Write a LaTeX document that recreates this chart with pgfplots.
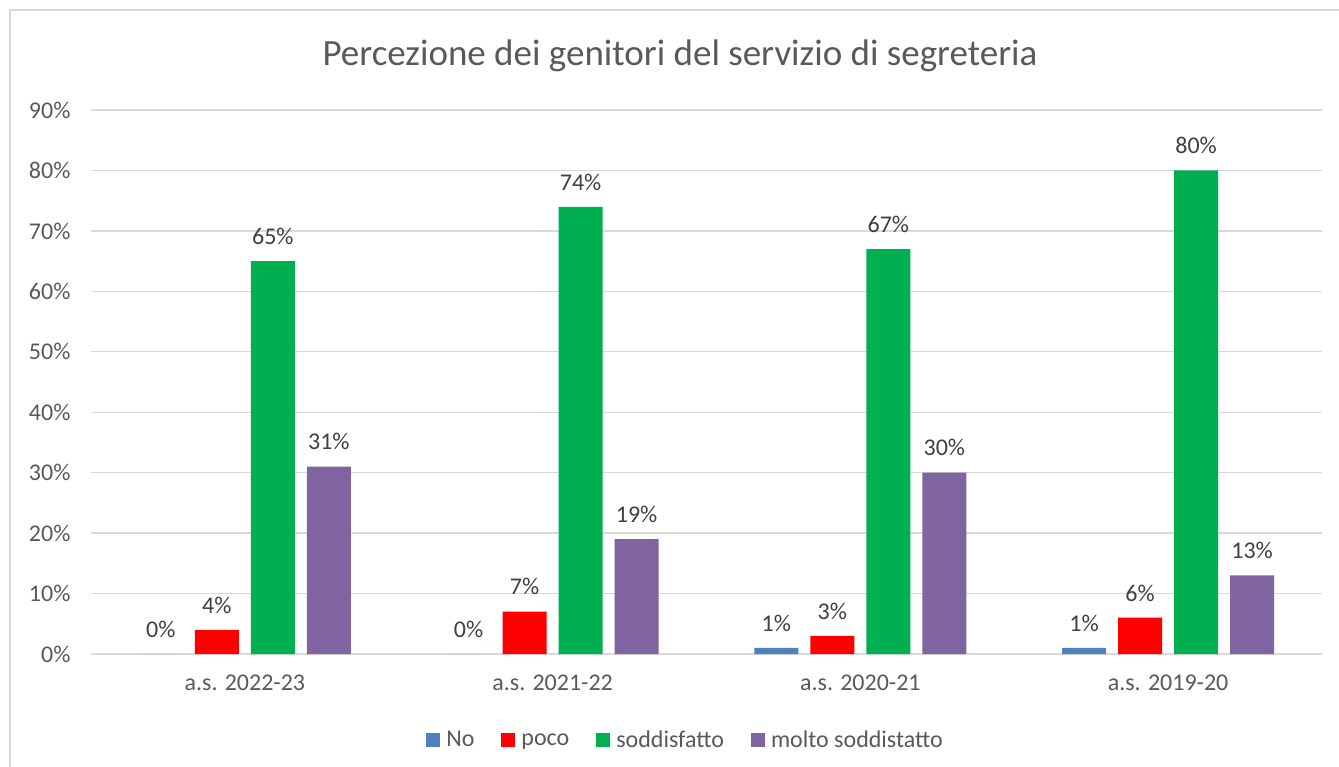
\documentclass[border=0pt]{standalone}
\usepackage{fontspec}
\setmainfont{Carlito}
\usepackage{pgfplots}
\pgfplotsset{compat=1.18}
\definecolor{cNo}{HTML}{4F81BD}
\definecolor{cPoco}{HTML}{FF0000}
\definecolor{cSodd}{HTML}{00B050}
\definecolor{cMolto}{HTML}{8064A2}
\definecolor{gridc}{HTML}{D9D9D9}
\definecolor{framec}{HTML}{D9D9D9}
\definecolor{titlec}{HTML}{595959}
\definecolor{tickc}{HTML}{595959}
\definecolor{labelc}{HTML}{404040}
\begin{document}
\begin{tikzpicture}
\path[use as bounding box] (0,0) rectangle (1339pt,-767pt);
\draw[color=framec, line width=1.2pt] (10pt,-790pt) -- (10pt,-10pt) -- (1360pt,-10pt);
\node[text=titlec, font=\fontsize{37}{42}\selectfont] at (680pt,-56pt) {Percezione dei genitori del servizio di segreteria};
\begin{axis}[
  at={(91pt,-654pt)}, anchor=south west,
  scale only axis, width=1231pt, height=543.96pt,
  xmin=-0.5, xmax=3.5, ymin=0, ymax=90,
  ytick={0,10,...,90},
  xtick=data,
  xticklabels={a.s. 2022-23,a.s. 2021-22,a.s. 2020-21,a.s. 2019-20},
  yticklabel={\pgfmathprintnumber{\tick}\%},
  /pgf/number format/assume math mode=true,
  ticklabel style={font=\fontsize{24}{28}\selectfont, text=tickc},
  yticklabel style={xshift=-17pt},
  xticklabel style={yshift=-17pt},
  major tick length=0pt,
  axis line style={draw=none},
  ymajorgrids, grid style={color=gridc, line width=1.3pt},
  ybar=12pt, bar width=44pt,
  nodes near coords={\pgfmathprintnumber{\pgfplotspointmeta}\%},
  nodes near coords style={font=\fontsize{24}{28}\selectfont, text=labelc, anchor=south, yshift=13pt, /pgf/number format/assume math mode=true},
  legend columns=4,
  legend style={draw=none, at={(0.483,-0.158)}, anchor=center, font=\fontsize{24}{28}\selectfont, text=tickc,
    /tikz/every even column/.append style={column sep=25pt},
    /tikz/every odd column/.append style={column sep=4pt}},
  legend image code/.code={\fill[#1] (0pt,-7pt) rectangle (14pt,7pt);},
]
\addplot[fill=cNo, draw=none] coordinates {(0,0) (1,0) (2,1) (3,1)};
\addplot[fill=cPoco, draw=none] coordinates {(0,4) (1,7) (2,3) (3,6)};
\addplot[fill=cSodd, draw=none] coordinates {(0,65) (1,74) (2,67) (3,80)};
\addplot[fill=cMolto, draw=none] coordinates {(0,31) (1,19) (2,30) (3,13)};
\legend{No,poco,soddisfatto,molto soddistatto}
\end{axis}
\end{tikzpicture}
\end{document}
